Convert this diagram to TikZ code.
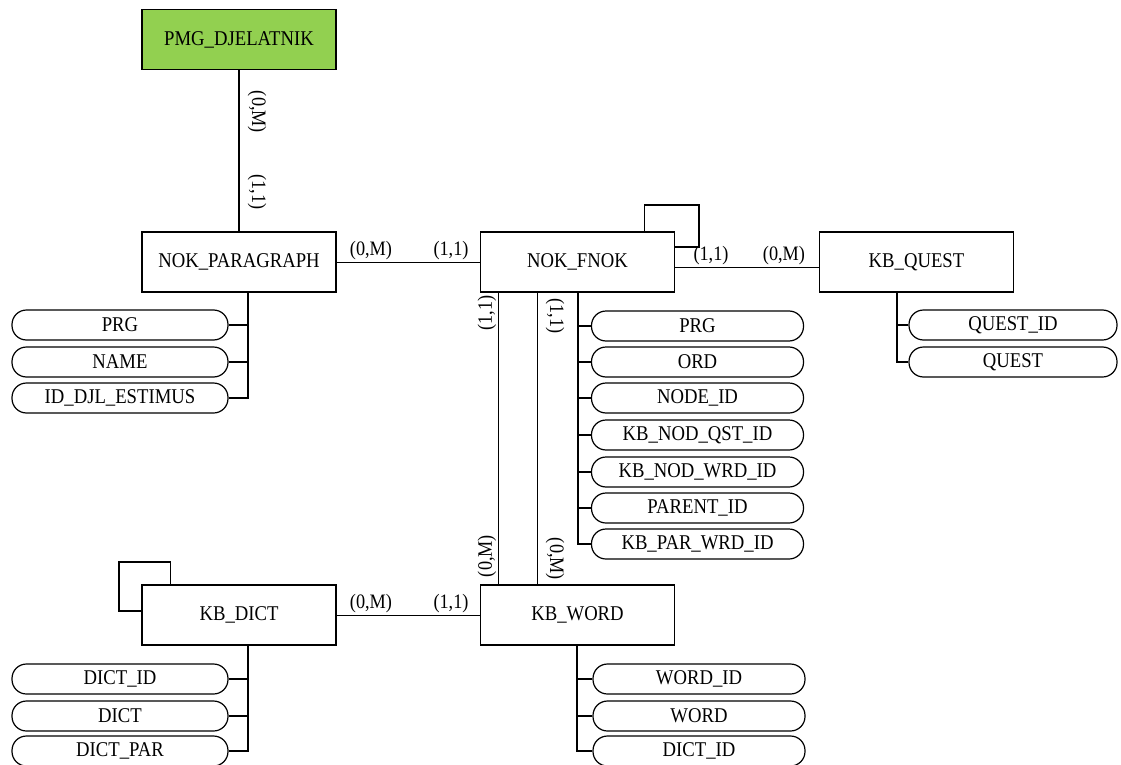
\documentclass[tikz,border=0pt]{standalone}
\usepackage{fontspec}
\setmainfont{Liberation Serif}[FakeStretch=0.89]
\definecolor{entgreen}{HTML}{92D050}
\tikzset{
  entity/.style={draw=black, line width=1.3pt, minimum width=194pt, minimum height=60pt, inner sep=0pt, font=\fontsize{21}{24}\selectfont},
  attr/.style={draw=black, line width=1.2pt, rounded corners=14.5pt, minimum width=212pt, minimum height=30pt, inner sep=0pt, font=\fontsize{21}{24}\selectfont},
  attrwide/.style={attr, minimum width=216pt},
  conn/.style={line width=1.1pt},
  rel/.style={line width=0.7pt},
  card/.style={inner sep=0pt, font=\fontsize{20.5}{24}\selectfont},
}
\begin{document}
\begin{tikzpicture}[x=1pt,y=-1pt]
\useasboundingbox (0,0) rectangle (1121,765);
% entities
\node[entity, fill=entgreen] (pmg) at (239,39.5) {PMG\_DJELATNIK};
\node[entity] (par) at (239,262) {NOK\_PARAGRAPH};
\node[entity] (fnok) at (577.5,262) {NOK\_FNOK};
\node[entity] (quest) at (916.5,262) {KB\_QUEST};
\node[entity] (dict) at (239,615) {KB\_DICT};
\node[entity] (word) at (577.5,615) {KB\_WORD};

% PMG - PAR
\draw[conn] (pmg.south) -- (par.north);
\node[card, rotate=-90] (l1) at (257,112) {(0,M)};
\node[card, rotate=-90] (l2) at (257,192) {(1,1)};

% PAR - FNOK
\draw[rel] (par.east) -- (fnok.west);
\node[card] (l3) at (371,251) {(0,M)};
\node[card] (l4) at (451,251) {(1,1)};

% FNOK self loop
\draw[conn] ([xshift=165pt]fnok.north west) |- (699,205) |- ([yshift=15pt]fnok.east);

% FNOK - QUEST
\draw[rel] ([yshift=-5pt]fnok.east) -- ([yshift=-5pt]quest.west);
\node[card] (l5) at (711,256) {(1,1)};
\node[card] (l6) at (784,256) {(0,M)};

% FNOK - WORD (two)
\draw[conn] ([xshift=19pt]fnok.south west) -- ([xshift=19pt]word.north west);
\draw[conn] ([xshift=58pt]fnok.south west) -- ([xshift=58pt]word.north west);
\node[card, rotate=90] (l7) at (487,313) {(1,1)};
\node[card, rotate=-90] (l8) at (555,316) {(1,1)};
\node[card, rotate=90] (l9) at (487,556) {(0,M)};
\node[card, rotate=-90] (l10) at (555,559) {(0,M)};

% DICT self loop
\draw[conn] ([yshift=4pt]dict.west) -| (119,562) -| ([xshift=29pt]dict.north west);

% DICT - WORD
\draw[rel] (dict.east) -- (word.west);
\node[card] (l11) at (371,604) {(0,M)};
\node[card] (l12) at (451,604) {(1,1)};

% PAR attributes
\node[attrwide] (pa1) at (120,325) {PRG};
\node[attrwide] (pa2) at (120,362) {NAME};
\node[attrwide] (pa3) at (120,398) {ID\_DJL\_ESTIMUS};
\coordinate (pt) at ([xshift=9pt]par.south);
\draw[conn] (pt) |- (pa3.east);
\draw[conn] (pa1.east) -- (pa1.east -| pt);
\draw[conn] (pa2.east) -- (pa2.east -| pt);

% FNOK attributes
\node[attr] (fa1) at (697.5,326) {PRG};
\node[attr] (fa2) at (697.5,362) {ORD};
\node[attr] (fa3) at (697.5,398) {NODE\_ID};
\node[attr] (fa4) at (697.5,435) {KB\_NOD\_QST\_ID};
\node[attr] (fa5) at (697.5,472) {KB\_NOD\_WRD\_ID};
\node[attr] (fa6) at (697.5,508) {PARENT\_ID};
\node[attr] (fa7) at (697.5,544) {KB\_PAR\_WRD\_ID};
\coordinate (ft) at ([xshift=0.5pt]fnok.south);
\draw[conn] (ft) |- (fa7.west);
\foreach \n in {fa1,fa2,fa3,fa4,fa5,fa6}{
  \draw[conn] (\n.west) -- (\n.west -| ft);
}

% QUEST attributes
\node[attr, minimum width=208pt] (qa1) at (1013,325) {QUEST\_ID};
\node[attr, minimum width=208pt] (qa2) at (1013,362) {QUEST};
\coordinate (qt) at ([xshift=-19.5pt]quest.south);
\draw[conn] (qt) |- (qa2.west);
\draw[conn] (qa1.west) -- (qa1.west -| qt);

% DICT attributes
\node[attrwide] (da1) at (120,679) {DICT\_ID};
\node[attrwide] (da2) at (120,716) {DICT};
\node[attrwide] (da3) at (120,751) {DICT\_PAR};
\coordinate (dt) at ([xshift=9pt]dict.south);
\draw[conn] (dt) |- (da3.east);
\draw[conn] (da1.east) -- (da1.east -| dt);
\draw[conn] (da2.east) -- (da2.east -| dt);

% WORD attributes
\node[attr] (wa1) at (699,679) {WORD\_ID};
\node[attr] (wa2) at (699,716) {WORD};
\node[attr] (wa3) at (699,751) {DICT\_ID};
\coordinate (wt) at ([xshift=-0.5pt]word.south);
\draw[conn] (wt) |- (wa3.west);
\draw[conn] (wa1.west) -- (wa1.west -| wt);
\draw[conn] (wa2.west) -- (wa2.west -| wt);
\end{tikzpicture}
\end{document}
